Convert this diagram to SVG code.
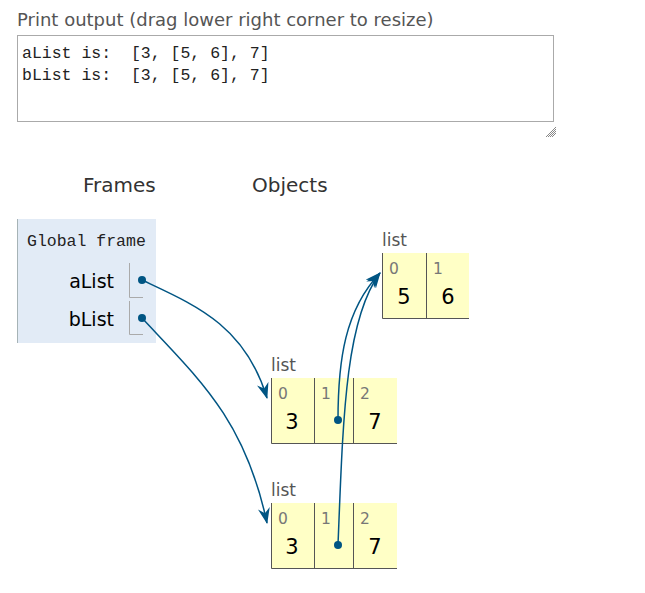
<svg xmlns="http://www.w3.org/2000/svg" width="645" height="593" viewBox="0 0 645 593">
<style>
.lbl{font-family:"DejaVu Sans",Verdana,sans-serif;fill:#555;}
.mono{font-family:"Liberation Mono","DejaVu Sans Mono",monospace;font-size:16.5px;fill:#222;}
.hdr{font-family:"DejaVu Sans",Verdana,sans-serif;font-size:20px;fill:#333;}
.var{font-family:"DejaVu Sans",Verdana,sans-serif;font-size:19px;fill:#000;text-anchor:end;}
.cell{fill:#ffffc6;}
.bd{stroke:#555;stroke-width:1;fill:none;}
.idx{font-family:"DejaVu Sans",Verdana,sans-serif;font-size:15.5px;fill:#777;}
.val{font-family:"DejaVu Sans",Verdana,sans-serif;font-size:21px;fill:#000;text-anchor:middle;}
.typ{font-family:"DejaVu Sans",Verdana,sans-serif;font-size:17px;fill:#555;}
.conn{stroke:#005583;stroke-width:1.5;fill:none;marker-end:url(#ah);}
.dot{fill:#005583;}
</style>
<defs>
<marker id="ah" viewBox="0 0 16 12" refX="15" refY="6" markerWidth="16" markerHeight="12" markerUnits="userSpaceOnUse" orient="auto">
<path d="M0,0 L16,6 L0,12 L5,6 z" fill="#005583"/>
</marker>
</defs>
<g id="print-output">
<text class="lbl" x="17" y="26" font-size="18">Print output (drag lower right corner to resize)</text>
<rect x="17.5" y="35.5" width="536" height="86" fill="#fff" stroke="#aaa"/>
<text class="mono" x="22" y="58" xml:space="preserve">aList is:  [3, [5, 6], 7]</text>
<text class="mono" x="22" y="80" xml:space="preserve">bList is:  [3, [5, 6], 7]</text>
<g stroke="#888" stroke-width="1">
<line x1="546" y1="137" x2="556" y2="127"/>
<line x1="548" y1="137" x2="556" y2="129"/>
<line x1="550" y1="137" x2="556" y2="131"/>
<line x1="552" y1="137" x2="556" y2="133"/>
</g>
</g>
<g id="headers">
<text class="hdr" x="83" y="192">Frames</text>
<text class="hdr" x="252" y="192">Objects</text>
</g>
<g id="global-frame">
<rect x="17" y="219" width="139" height="124" fill="#e2ebf6"/>
<line x1="17.5" y1="219" x2="17.5" y2="343" stroke="#a6b3b6"/>
<text class="mono" x="27" y="246" fill="#333">Global frame</text>
<text class="var" x="114" y="288">aList</text>
<path class="bd" d="M129.5,263 V297.5 H143" style="stroke:#aaa"/>
<text class="var" x="114" y="326">bList</text>
<path class="bd" d="M129.5,301 V334.5 H143" style="stroke:#aaa"/>
</g>
<g id="list-56">
<text class="typ" x="382" y="246">list</text>
<rect class="cell" x="382" y="253" width="87" height="66"/>
<path class="bd" d="M382.5,253 V318.5 H469 M426.5,253 V318.5"/>
<text class="idx" x="389" y="274">0</text>
<text class="idx" x="433" y="274">1</text>
<text class="val" x="404" y="304">5</text>
<text class="val" x="448" y="304">6</text>
</g>
<g id="list-a">
<text class="typ" x="271" y="371">list</text>
<rect class="cell" x="271" y="378" width="126" height="66"/>
<path class="bd" d="M271.5,378 V443.5 H397 M314.5,378 V443.5 M353.5,378 V443.5"/>
<text class="idx" x="278" y="399">0</text>
<text class="idx" x="321" y="399">1</text>
<text class="idx" x="360" y="399">2</text>
<text class="val" x="292" y="429">3</text>
<text class="val" x="375" y="429">7</text>
</g>
<g id="list-b">
<text class="typ" x="271" y="496">list</text>
<rect class="cell" x="271" y="503" width="126" height="66"/>
<path class="bd" d="M271.5,503 V568.5 H397 M314.5,503 V568.5 M353.5,503 V568.5"/>
<text class="idx" x="278" y="524">0</text>
<text class="idx" x="321" y="524">1</text>
<text class="idx" x="360" y="524">2</text>
<text class="val" x="292" y="554">3</text>
<text class="val" x="375" y="554">7</text>
</g>
<g id="connectors">
<path class="conn" d="M142,280 C195,305 245,325 267,398"/>
<path class="conn" d="M142,318 C200,380 245,420 267,523"/>
<path class="conn" d="M338,420 C338,360 345,310 380,273"/>
<path class="conn" d="M338,545 C343,420 345,320 380,273"/>
<circle class="dot" cx="142" cy="280" r="4"/>
<circle class="dot" cx="142" cy="318" r="4"/>
<circle class="dot" cx="338" cy="420" r="4"/>
<circle class="dot" cx="338" cy="545" r="4"/>
</g>
</svg>
